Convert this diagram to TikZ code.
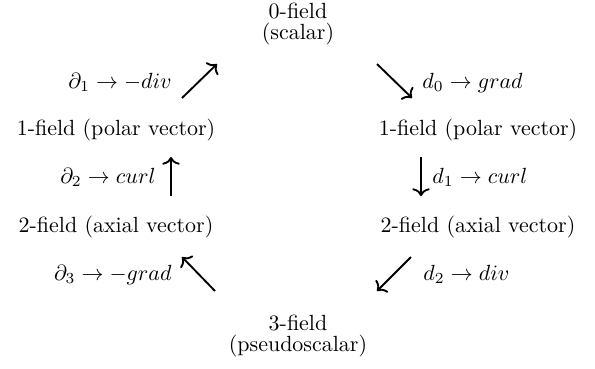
\documentclass[tikz,border=0pt]{standalone}
\usepackage{amsmath, amssymb}
\usepackage{tikz}
\usetikzlibrary{arrows.meta,calc,positioning}

\begin{document}
\begin{tikzpicture}[x=0.016cm,y=-0.016cm,
    field/.style={inner sep=0pt, align=center},
    maplabel/.style={inner sep=0pt},
    maparrow/.style={line width=0.85pt, -{To[length=3.5pt,width=8pt]}}]
        \useasboundingbox (0,0) rectangle (595,368);
        \def\xl{116}
        \def\xr{478}
        %Fields
        \node[field, anchor=north] (f0) at (298,3) {0-field\\[-2.5pt](scalar)};
        \node[field, anchor=base] (f1l) at (\xl,135) {1-field (polar vector)};
        \node[field, anchor=base] (f1r) at (\xr,135) {1-field (polar vector)};
        \node[field, anchor=base] (f2l) at (\xl,232) {2-field (axial vector)};
        \node[field, anchor=base] (f2r) at (\xr,232) {2-field (axial vector)};
        \node[field, anchor=north] (f3) at (298,315) {3-field\\[-2.5pt](pseudoscalar)};
        %Arrow ends
        \coordinate (d0s) at (377,64);
        \coordinate (d0e) at (412,98);
        \coordinate (d1s) at (421,157);
        \coordinate (d1e) at (421,196);
        \coordinate (d2s) at (411,257);
        \coordinate (d2e) at (377,291);
        \coordinate (p3s) at (215,291);
        \coordinate (p3e) at (182,257);
        \coordinate (p2s) at (171,196);
        \coordinate (p2e) at (171,157);
        \coordinate (p1s) at (182,98);
        \coordinate (p1e) at (217,64);
        %Maps
        \draw[maparrow] (d0s) -- (d0e);
        \draw[maparrow] (d1s) -- (d1e);
        \draw[maparrow] (d2s) -- (d2e);
        \draw[maparrow] (p3s) -- (p3e);
        \draw[maparrow] (p2s) -- (p2e);
        \draw[maparrow] (p1s) -- (p1e);
        %Labels
        \node[maplabel, anchor=base west] (ld0) at (422,88) {$d_0 \to grad$};
        \node[maplabel, anchor=base west] (ld1) at (432,183) {$d_1 \to curl$};
        \node[maplabel, anchor=base west] (ld2) at (423,280) {$d_2 \to div$};
        \node[maplabel, anchor=base east] (lp1) at (172,88) {$\partial_1 \to -div$};
        \node[maplabel, anchor=base east] (lp2) at (156,183) {$\partial_2 \to curl$};
        \node[maplabel, anchor=base east] (lp3) at (172,280) {$\partial_3 \to -grad$};
      \end{tikzpicture}
\end{document}
